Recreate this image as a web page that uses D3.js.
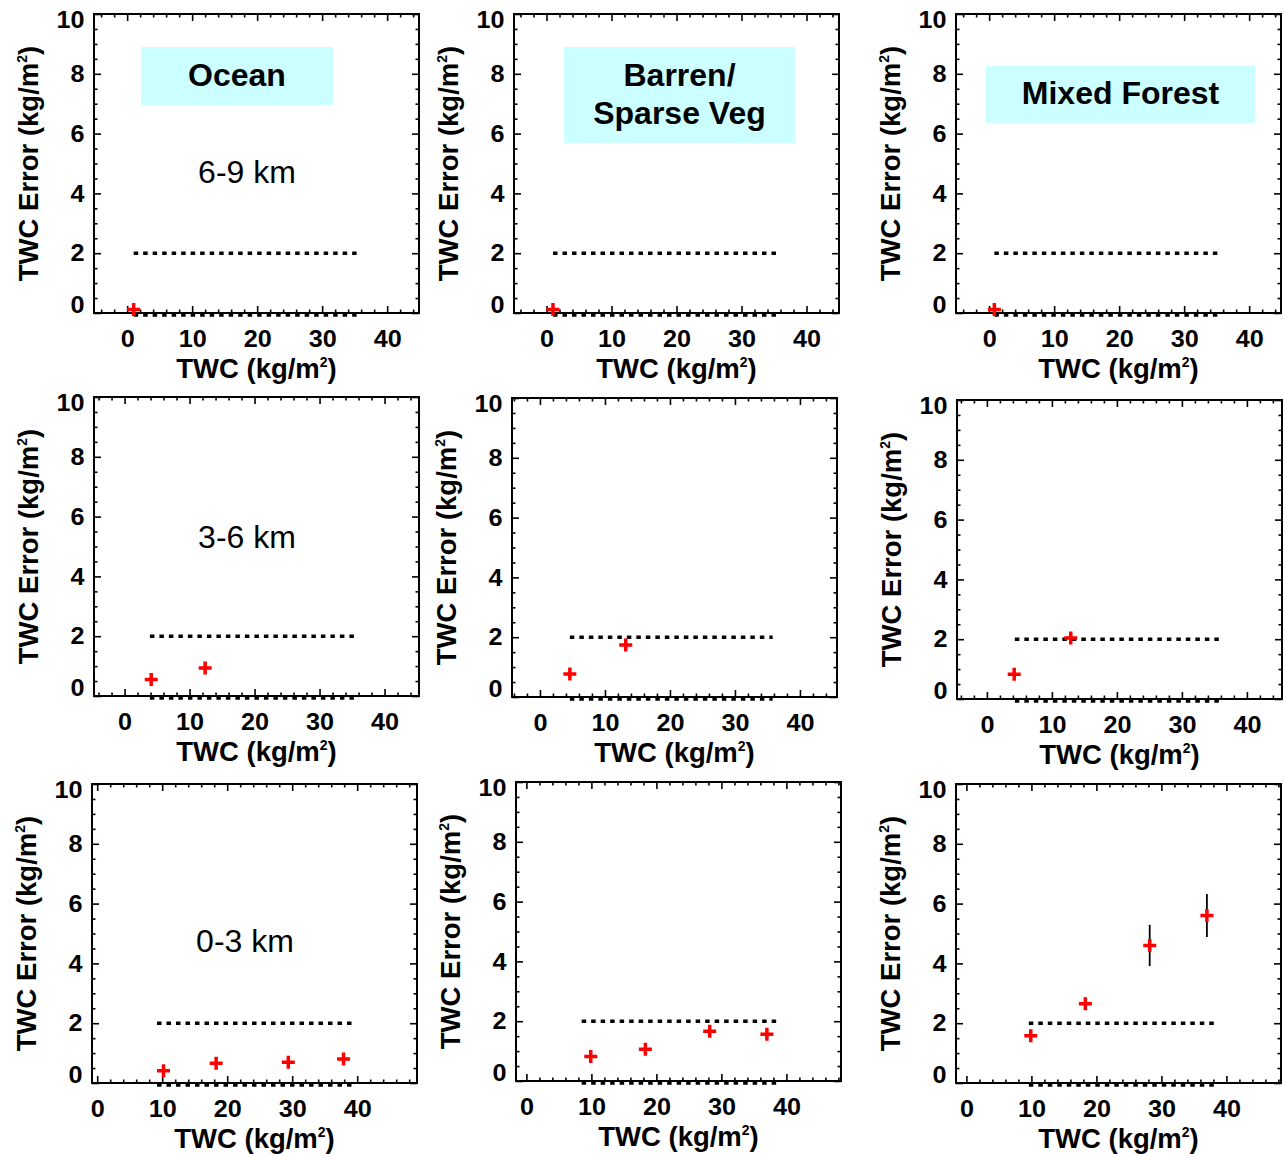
<!DOCTYPE html>
<meta charset="utf-8">
<style>
body { margin: 0; background: #fff; }
svg { display: block; font-family: "Liberation Sans", Arial, Helvetica, sans-serif; }
.tick text { font-weight: bold; font-size: 24px; fill: #000; }
.tick line { stroke: #000; stroke-width: 1.6px; }
.frame { fill: none; stroke: #000; stroke-width: 2px; }
.ref { stroke: #000; stroke-width: 3.4px; stroke-dasharray: 4.5,5; fill: none; }
.pt { stroke: #f00; stroke-width: 3.5px; fill: none; }
.err { stroke: #000; stroke-width: 1.8px; }
.title { font-weight: bold; font-size: 27.5px; fill: #000; }
.surface { font-weight: bold; font-size: 32px; fill: #000; }
.alt { font-size: 32px; fill: #000; }
</style>
<svg width="1284" height="1154"></svg>
<script src="https://d3js.org/d3.v7.min.js"></script>
<script>
var altitudes = ["6-9 km", "3-6 km", "0-3 km"];
var surfaces = [["Ocean"], ["Barren/", "Sparse Veg"], ["Mixed Forest"]];
var xTicks = [0, 10, 20, 30, 40];
var yTicks = [0, 2, 4, 6, 8, 10];
var threshold = 2;

// TWC (x) and TWC error (y) for each altitude layer, top row first
var oceanTWC  = [[1.0], [4.1, 12.4], [10.2, 18.3, 29.4, 37.9]];
var oceanErr  = [[0.12], [0.55, 0.94], [0.41, 0.66, 0.69, 0.80]];
var barrenTWC = [[1.0], [4.6, 13.2], [9.9, 18.3, 28.2, 37.0]];
var barrenErr = [[0.12], [0.77, 1.74], [0.82, 1.06, 1.66, 1.56]];
var forestTWC = [[0.8], [4.2, 12.9], [9.9, 18.3, 28.2, 37.0]];
var forestErr = [[0.12], [0.83, 2.04], [1.58, 2.65, 4.6, 5.6]];
// spread of the error (vertical bars), only visible for forest 0-3 km
var forestSpread = [[0], [0, 0], [0.15, 0.2, 0.69, 0.72]];

// x extent of the 2 kg/m2 dotted line
var oceanRef  = [[1.0, 35.3], [3.9, 35.7], [9.2, 39.4]];
var barrenRef = [[1.0, 35.3], [4.6, 35.8], [8.5, 38.6]];
var forestRef = [[0.8, 35.3], [4.3, 35.7], [9.6, 38.6]];

var sets = [
  {twc: oceanTWC, err: oceanErr, ref: oceanRef, spread: null},
  {twc: barrenTWC, err: barrenErr, ref: barrenRef, spread: null},
  {twc: forestTWC, err: forestErr, ref: forestRef, spread: forestSpread}
];

// panel placement (the figure is a pasted mosaic, so each frame sits a bit differently)
var frames = [
  [[94, 14], [514, 14], [956, 14]],
  [[94, 397], [512, 398], [957, 400]],
  [[92, 784], [516, 782], [956, 784]]
];
var xStart = [[-5.1, -5.0, -5.1], [-4.7, -4.3, -4.6], [-0.8, -1.6, -1.6]];
var pw = 325, ph = 299;

var boxes = [[47, 33, 192, 58], [50, 33, 231, 96], [30, 52, 269, 57]];
var altY = [157, 139, 156];

var svg = d3.select("svg");

function sup(t, main) {
  t.append("tspan").text(main);
  t.append("tspan").attr("font-size", "14px").attr("dy", "-11").text("2");
  t.append("tspan").attr("dy", "11").text(")");
}

for (var r = 0; r < 3; r++) {
  for (var c = 0; c < 3; c++) {
    var f = frames[r][c];
    var g = svg.append("g").attr("transform", "translate(" + f[0] + "," + f[1] + ")");
    var x = d3.scaleLinear().domain([xStart[r][c], xStart[r][c] + 50]).range([0, pw]);
    var y = d3.scaleLinear().domain([0, 10]).range([ph, 0]);

    var minorX = d3.range(Math.ceil(xStart[r][c] / 2) * 2, xStart[r][c] + 50, 2)
      .filter(function(v) { return v % 10 !== 0; });
    var minorY = d3.range(0.5, 10, 0.5).filter(function(v) { return v % 2 !== 0; });

    // minor ticks, all four sides
    g.append("g").attr("transform", "translate(0," + ph + ")")
      .call(d3.axisBottom(x).tickValues(minorX).tickSize(-3.5).tickFormat(""));
    g.append("g").call(d3.axisTop(x).tickValues(minorX).tickSize(-3.5).tickFormat(""));
    g.append("g").call(d3.axisLeft(y).tickValues(minorY).tickSize(-3.5).tickFormat(""));
    g.append("g").attr("transform", "translate(" + pw + ",0)")
      .call(d3.axisRight(y).tickValues(minorY).tickSize(-3.5).tickFormat(""));

    // major ticks
    var xb = g.append("g").attr("transform", "translate(0," + ph + ")")
      .call(d3.axisBottom(x).tickValues(xTicks).tickSize(-7).tickPadding(17).tickFormat(d3.format("d")));
    xb.selectAll(".tick text").attr("transform", "scale(1.05,1)");
    g.append("g").call(d3.axisTop(x).tickValues(xTicks).tickSize(-7).tickFormat(""));
    var yl = g.append("g")
      .call(d3.axisLeft(y).tickValues(yTicks).tickSize(-7).tickPadding(9).tickFormat(d3.format("d")));
    yl.selectAll(".tick text")
      .attr("transform", "scale(1.05,1)")
      .attr("y", function(d) { return d === 0 ? -8 : (d === 10 ? 6 : 0); });
    g.append("g").attr("transform", "translate(" + pw + ",0)")
      .call(d3.axisRight(y).tickValues(yTicks).tickSize(-7).tickFormat(""));

    g.selectAll(".domain").remove();
    g.append("rect").attr("class", "frame").attr("width", pw).attr("height", ph);

    // titles
    var yt = g.append("text").attr("class", "title")
      .attr("transform", "translate(-66," + (ph / 2) + ") rotate(-90)")
      .attr("text-anchor", "middle").attr("dy", "0.35em");
    sup(yt, "TWC Error (kg/m");
    var xt = g.append("text").attr("class", "title")
      .attr("transform", "translate(" + (pw / 2) + "," + (ph + 55) + ")")
      .attr("text-anchor", "middle").attr("dy", "0.35em");
    sup(xt, "TWC (kg/m");

    var s = sets[c];
    var ref = s.ref[r];

    // 2 kg/m2 reference line and its echo on the zero line
    g.append("line").attr("class", "ref")
      .attr("x1", x(ref[0])).attr("x2", x(ref[1]))
      .attr("y1", y(threshold)).attr("y2", y(threshold));
    g.append("line").attr("class", "ref")
      .attr("x1", x(ref[0])).attr("x2", x(ref[1]))
      .attr("y1", y(0) + 2).attr("y2", y(0) + 2);

    var pts = s.twc[r].map(function(v, i) {
      return {x: v, y: s.err[r][i], sd: s.spread ? s.spread[r][i] : 0};
    });

    g.selectAll(".err").data(pts.filter(function(d) { return d.sd > 0; }))
      .join("line").attr("class", "err")
      .attr("x1", function(d) { return x(d.x); })
      .attr("x2", function(d) { return x(d.x); })
      .attr("y1", function(d) { return y(d.y - d.sd); })
      .attr("y2", function(d) { return y(d.y + d.sd); });

    g.selectAll(".pt").data(pts).join("path").attr("class", "pt")
      .attr("transform", function(d) { return "translate(" + x(d.x) + "," + y(d.y) + ")"; })
      .attr("d", "M-6.5,0H6.5M0,-6.5V6.5");

    if (r === 0) {
      var b = boxes[c];
      g.append("rect").attr("x", b[0]).attr("y", b[1]).attr("width", b[2]).attr("height", b[3])
        .attr("fill", "#ccffff");
      var lines = surfaces[c];
      lines.forEach(function(t, i) {
        g.append("text").attr("class", "surface")
          .attr("x", b[0] + b[2] / 2)
          .attr("y", b[1] + b[3] / 2 + (i - (lines.length - 1) / 2) * 38 - 2)
          .attr("text-anchor", "middle").attr("dy", "0.36em")
          .text(t);
      });
    }
    if (c === 0) {
      g.append("text").attr("class", "alt")
        .attr("x", 153).attr("y", altY[r])
        .attr("text-anchor", "middle").attr("dy", "0.36em")
        .text(altitudes[r]);
    }
  }
}
</script>
